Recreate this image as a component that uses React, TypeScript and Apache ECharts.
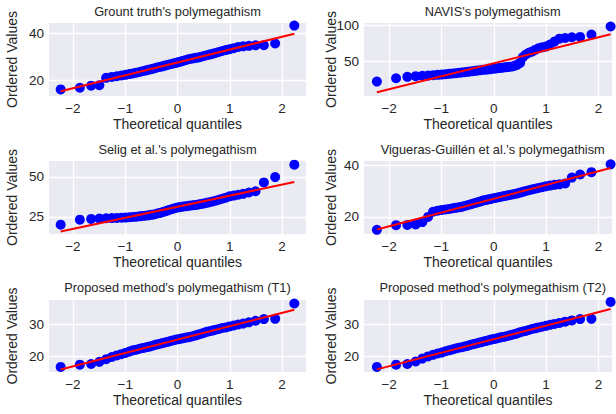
import React, { useEffect, useRef } from "react";
import * as echarts from "echarts";

// Probability plots (normal Q-Q) of polymegathism for six methods, 54 ordered samples each.
const panelTitles = [
  "Grount truth's polymegathism",
  "NAVIS's polymegathism",
  "Selig et al.'s polymegathism",
  "Vigueras-Guillén et al.'s polymegathism",
  "Proposed method's polymegathism (T1)",
  "Proposed method's polymegathism (T2)",
];

const groundTruth = [
  16.3, 17.0, 17.9, 18.1, 21.2, 21.6, 21.9, 22.2, 22.5, 22.8,
  23.1, 23.4, 23.7, 24.0, 24.3, 24.6, 24.9, 25.2, 25.5, 25.8,
  26.0, 26.3, 26.6, 26.9, 27.1, 27.4, 27.6, 27.9, 28.2, 28.5,
  28.8, 29.1, 29.3, 29.5, 29.7, 29.9, 30.2, 30.5, 30.8, 31.1,
  31.4, 31.8, 32.2, 32.6, 33.0, 33.4, 33.8, 34.3, 34.6, 34.8,
  35.0, 35.1, 35.8, 43.4,
];

const navis = [
  22.4, 27.1, 29.0, 29.9, 30.4, 30.8, 31.3, 31.8, 32.2, 32.7,
  33.2, 33.6, 34.1, 34.6, 35.0, 35.5, 36.0, 36.4, 36.9, 37.4,
  37.9, 38.3, 38.8, 39.0, 39.3, 39.7, 40.2, 40.5, 41.0, 41.4,
  41.8, 42.2, 42.6, 43.0, 43.5, 44.5, 46.0, 48.5, 56.5, 60.0,
  62.5, 64.0, 66.4, 68.7, 70.0, 71.0, 73.8, 78.0, 82.0, 83.0,
  84.0, 84.5, 87.8, 99.0,
];

const selig = [
  20.2, 23.3, 23.8, 24.0, 24.2, 24.3, 24.4, 24.5, 24.6, 24.8,
  25.0, 25.2, 25.4, 25.6, 25.8, 26.0, 26.3, 26.6, 27.0, 27.4,
  27.8, 28.3, 28.8, 29.3, 29.8, 30.3, 30.7, 31.0, 31.3, 31.5,
  31.7, 31.9, 32.1, 32.3, 32.5, 32.8, 33.1, 33.4, 33.8, 34.2,
  34.6, 35.1, 35.7, 36.3, 37.0, 37.8, 38.3, 38.8, 39.4, 40.2,
  41.0, 46.5, 49.8, 57.5,
];

const viguerasGuillen = [
  15.0, 16.8, 16.9, 17.1, 18.0, 20.0, 22.0, 22.4, 22.7, 22.9,
  23.1, 23.3, 23.5, 23.7, 23.9, 24.2, 24.5, 24.8, 25.1, 25.4,
  25.7, 26.0, 26.3, 26.5, 26.7, 26.9, 27.1, 27.3, 27.5, 27.7,
  27.9, 28.1, 28.3, 28.5, 28.7, 28.9, 29.1, 29.4, 29.7, 30.0,
  30.3, 30.6, 30.9, 31.2, 31.5, 31.8, 32.1, 32.4, 32.6, 32.9,
  35.2, 36.4, 37.3, 40.3,
];

const proposedT1 = [
  16.6, 17.3, 17.5, 18.2, 19.0, 19.7, 20.2, 20.6, 21.0, 21.4,
  21.8, 22.0, 22.3, 22.5, 22.7, 22.9, 23.1, 23.4, 23.6, 23.8,
  24.0, 24.2, 24.4, 24.6, 24.8, 25.0, 25.2, 25.3, 25.5, 25.6,
  25.8, 25.9, 26.1, 26.3, 26.5, 26.8, 27.0, 27.3, 27.6, 27.8,
  28.0, 28.3, 28.5, 28.8, 29.0, 29.3, 29.6, 29.9, 30.2, 30.6,
  31.1, 31.6, 31.7, 36.5,
];

const proposedT2 = [
  16.6, 17.3, 17.5, 18.3, 19.2, 19.9, 20.4, 20.8, 21.1, 21.5,
  21.8, 22.1, 22.4, 22.6, 22.8, 23.0, 23.2, 23.5, 23.7, 23.9,
  24.1, 24.3, 24.5, 24.7, 24.9, 25.1, 25.3, 25.4, 25.6, 25.8,
  26.0, 26.1, 26.3, 26.5, 26.7, 26.9, 27.2, 27.5, 27.7, 27.9,
  28.2, 28.5, 28.7, 29.0, 29.2, 29.5, 29.8, 30.1, 30.4, 30.8,
  31.2, 31.6, 31.7, 37.0,
];

const panelData = [groundTruth, navis, selig, viguerasGuillen, proposedT1, proposedT2];

const xTickValues = [-2, -1, 0, 1, 2];
const yTickValues = [
  [20, 40],
  [50, 100],
  [25, 50],
  [20, 40],
  [20, 30],
  [20, 30],
];
const yLimits = [
  [13.5, 44.5],
  [2.4, 103.8],
  [14.4, 59.8],
  [13.4, 41.6],
  [15.0, 37.6],
  [15.0, 37.6],
];
const xLimitsByColumn = [
  [-2.457, 2.457],
  [-2.48, 2.26],
];

// Layout (pixels)
const columns = [
  { left: 49, width: 257, titleX: 177.5, nameGap: 30 },
  { left: 364, width: 248, titleX: 492.7, nameGap: 26 },
];
const rows = [
  { top: 23, height: 73, titleY: 11 },
  { top: 161, height: 73, titleY: 149 },
  { top: 300, height: 72, titleY: 287.7 },
];

const FONT = "'Liberation Sans', Arial, Helvetica, sans-serif";
const TEXT = "#262626";

// Acklam's rational approximation of the standard normal inverse CDF
function normPpf(p: number): number {
  const a = [-3.969683028665376e1, 2.209460984245205e2, -2.759285104469687e2, 1.38357751867269e2, -3.066479806614716e1, 2.506628277459239];
  const b = [-5.447609879822406e1, 1.615858368580409e2, -1.556989798598866e2, 6.680131188771972e1, -1.328068155288572e1];
  const c = [-7.784894002430293e-3, -3.223964580411365e-1, -2.400758277161838, -2.549732539343734, 4.374664141464968, 2.938163982698783];
  const d = [7.784695709041462e-3, 3.224671290700398e-1, 2.445134137142996, 3.754408661907416];
  const pl = 0.02425;
  if (p < pl) {
    const q = Math.sqrt(-2 * Math.log(p));
    return (((((c[0] * q + c[1]) * q + c[2]) * q + c[3]) * q + c[4]) * q + c[5]) / ((((d[0] * q + d[1]) * q + d[2]) * q + d[3]) * q + 1);
  }
  if (p <= 1 - pl) {
    const q = p - 0.5;
    const r = q * q;
    return ((((((a[0] * r + a[1]) * r + a[2]) * r + a[3]) * r + a[4]) * r + a[5]) * q) / (((((b[0] * r + b[1]) * r + b[2]) * r + b[3]) * r + b[4]) * r + 1);
  }
  const q = Math.sqrt(-2 * Math.log(1 - p));
  return -(((((c[0] * q + c[1]) * q + c[2]) * q + c[3]) * q + c[4]) * q + c[5]) / ((((d[0] * q + d[1]) * q + d[2]) * q + d[3]) * q + 1);
}

// Filliben's order-statistic medians, as used by scipy.stats.probplot
function theoreticalQuantiles(n: number): number[] {
  const m = new Array(n);
  m[n - 1] = Math.pow(0.5, 1 / n);
  m[0] = 1 - m[n - 1];
  for (let i = 2; i < n; i++) m[i - 1] = (i - 0.3175) / (n + 0.365);
  return m.map(normPpf);
}

// Least-squares fit of ordered values on theoretical quantiles
function leastSquares(x: number[], y: number[]) {
  const n = x.length;
  const mx = x.reduce((s, v) => s + v, 0) / n;
  const my = y.reduce((s, v) => s + v, 0) / n;
  let sxy = 0;
  let sxx = 0;
  for (let i = 0; i < n; i++) {
    sxy += (x[i] - mx) * (y[i] - my);
    sxx += (x[i] - mx) * (x[i] - mx);
  }
  const slope = sxy / sxx;
  return { slope, intercept: my - slope * mx };
}

const fmtTick = (v: number) => (v < 0 ? "\u2212" + Math.abs(v) : String(v));

function buildOption() {
  const grids: any[] = [];
  const xAxes: any[] = [];
  const yAxes: any[] = [];
  const series: any[] = [];
  const graphics: any[] = [];

  panelData.forEach((values, i) => {
    const col = columns[i % 2];
    const row = rows[Math.floor(i / 2)];
    const q = theoreticalQuantiles(values.length);
    const fit = leastSquares(q, values);
    const xr = xLimitsByColumn[i % 2];

    grids.push({
      left: col.left,
      top: row.top,
      width: col.width,
      height: row.height,
      show: true,
      backgroundColor: "#EAEAF2",
      borderWidth: 0,
      containLabel: false,
    });

    xAxes.push({
      type: "value",
      gridIndex: i,
      min: xr[0],
      max: xr[1],
      axisLine: { show: false },
      axisTick: { show: false, customValues: xTickValues },
      axisLabel: {
        customValues: xTickValues,
        formatter: fmtTick,
        color: TEXT,
        fontSize: 13.5,
        fontFamily: FONT,
        margin: 5,
      },
      splitLine: { show: true, lineStyle: { color: "#ffffff", width: 1.3 } },
      name: "Theoretical quantiles",
      nameLocation: "middle",
      nameGap: 21,
      nameMoveOverlap: false,
      nameTextStyle: { color: TEXT, fontSize: 14, fontFamily: FONT },
    });

    yAxes.push({
      type: "value",
      gridIndex: i,
      min: yLimits[i][0],
      max: yLimits[i][1],
      axisLine: { show: false },
      axisTick: { show: false, customValues: yTickValues[i] },
      axisLabel: {
        customValues: yTickValues[i],
        formatter: fmtTick,
        color: TEXT,
        fontSize: 13.5,
        fontFamily: FONT,
        margin: 5,
      },
      splitLine: { show: true, lineStyle: { color: "#ffffff", width: 1.3 } },
      name: "Ordered Values",
      nameLocation: "middle",
      nameGap: col.nameGap,
      nameMoveOverlap: false,
      nameTextStyle: { color: TEXT, fontSize: 14, fontFamily: FONT },
    });

    series.push({
      type: "scatter",
      xAxisIndex: i,
      yAxisIndex: i,
      data: q.map((qq, k) => [qq, values[k]]),
      symbol: "circle",
      symbolSize: 10,
      itemStyle: { color: "#0000ff", opacity: 1 },
      silent: true,
      z: 2,
    });

    const q0 = q[0];
    const q1 = q[q.length - 1];
    series.push({
      type: "line",
      xAxisIndex: i,
      yAxisIndex: i,
      data: [
        [q0, fit.intercept + fit.slope * q0],
        [q1, fit.intercept + fit.slope * q1],
      ],
      showSymbol: false,
      symbol: "none",
      lineStyle: { color: "#ff0000", width: 2 },
      silent: true,
      z: 3,
    });

    graphics.push({
      type: "text",
      x: col.titleX,
      y: row.titleY,
      style: {
        text: panelTitles[i],
        fill: TEXT,
        fontSize: 12.8,
        fontFamily: FONT,
        textAlign: "center",
        textVerticalAlign: "middle",
      },
    });
  });

  return {
    animation: false,
    backgroundColor: "#ffffff",
    grid: grids,
    xAxis: xAxes,
    yAxis: yAxes,
    series,
    graphic: graphics,
  };
}

export default function App() {
  const ref = useRef<HTMLDivElement>(null);

  useEffect(() => {
    if (!ref.current) return;
    const chart = echarts.init(ref.current, undefined, { renderer: "svg" });
    chart.setOption(buildOption());
    return () => chart.dispose();
  }, []);

  return (
    <div
      ref={ref}
      style={{ position: "fixed", left: 0, top: 0, width: 616, height: 414, background: "#fff" }}
    />
  );
}
